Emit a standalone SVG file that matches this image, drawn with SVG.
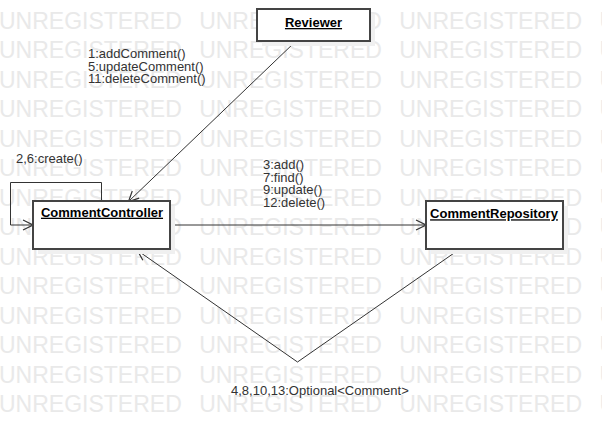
<svg xmlns="http://www.w3.org/2000/svg" width="602" height="442" viewBox="0 0 602 442">
<style>
.wm{font-family:"Liberation Sans",Arial,sans-serif;font-size:23px;fill:#e9e9e9;word-spacing:11px}
.box{fill:#fff;stroke:#444;stroke-width:2}
.shadow{fill:#f0f0f0}
.title{font-family:"Liberation Sans",Arial,sans-serif;font-size:13px;font-weight:bold;fill:#000;text-anchor:middle;text-decoration:underline}
.lbl{font-family:"Liberation Sans",Arial,sans-serif;font-size:13px;fill:#333}
.conn{fill:none;stroke:#333;stroke-width:1}
</style>
<defs>
<marker id="open" viewBox="0 0 12 12" refX="11" refY="6" markerWidth="12" markerHeight="12" markerUnits="userSpaceOnUse" orient="auto">
<path d="M1,1 L11,6 L1,11" fill="none" stroke="#333" stroke-width="1.2"/>
</marker>
</defs>
<rect width="602" height="442" fill="#fff"/>
<g id="watermark">
<text class="wm" x="-1" y="28.5">UNREGISTERED UNREGISTERED UNREGISTERED UNREGISTERED</text>
<text class="wm" x="-1" y="58">UNREGISTERED UNREGISTERED UNREGISTERED UNREGISTERED</text>
<text class="wm" x="-1" y="87.5">UNREGISTERED UNREGISTERED UNREGISTERED UNREGISTERED</text>
<text class="wm" x="-1" y="117">UNREGISTERED UNREGISTERED UNREGISTERED UNREGISTERED</text>
<text class="wm" x="-1" y="146.5">UNREGISTERED UNREGISTERED UNREGISTERED UNREGISTERED</text>
<text class="wm" x="-1" y="176">UNREGISTERED UNREGISTERED UNREGISTERED UNREGISTERED</text>
<text class="wm" x="-1" y="205.5">UNREGISTERED UNREGISTERED UNREGISTERED UNREGISTERED</text>
<text class="wm" x="-1" y="235">UNREGISTERED UNREGISTERED UNREGISTERED UNREGISTERED</text>
<text class="wm" x="-1" y="264.5">UNREGISTERED UNREGISTERED UNREGISTERED UNREGISTERED</text>
<text class="wm" x="-1" y="294">UNREGISTERED UNREGISTERED UNREGISTERED UNREGISTERED</text>
<text class="wm" x="-1" y="323.5">UNREGISTERED UNREGISTERED UNREGISTERED UNREGISTERED</text>
<text class="wm" x="-1" y="353">UNREGISTERED UNREGISTERED UNREGISTERED UNREGISTERED</text>
<text class="wm" x="-1" y="382.5">UNREGISTERED UNREGISTERED UNREGISTERED UNREGISTERED</text>
<text class="wm" x="-1" y="412">UNREGISTERED UNREGISTERED UNREGISTERED UNREGISTERED</text>
</g>
<g id="connectors">
<path class="conn" d="M295,42 L128.5,201.5" marker-end="url(#open)"/>
<path class="conn" d="M101.5,201 V182.5 H10.5 V225 H33" marker-end="url(#open)"/>
<path class="conn" d="M171,225 H426" marker-end="url(#open)"/>
<path class="conn" d="M457,251 L297.5,362 L137.5,250.5" marker-end="url(#open)"/>
<text class="lbl" x="88" y="58">1:addComment()</text>
<text class="lbl" x="88" y="70.5">5:updateComment()</text>
<text class="lbl" x="88" y="83">11:deleteComment()</text>
<text class="lbl" x="16" y="162.5">2,6:create()</text>
<text class="lbl" x="263" y="169">3:add()</text>
<text class="lbl" x="263" y="181.7">7:find()</text>
<text class="lbl" x="263" y="194.4">9:update()</text>
<text class="lbl" x="263" y="207.1">12:delete()</text>
<text class="lbl" x="231" y="394.5">4,8,10,13:Optional&lt;Comment&gt;</text>
</g>
<g id="Reviewer">
<rect class="shadow" x="262" y="14" width="113" height="32"/>
<rect class="box" x="257" y="9" width="113" height="32"/>
<text class="title" x="313.5" y="27">Reviewer</text>
</g>
<g id="CommentController">
<rect class="shadow" x="38" y="206" width="137" height="48"/>
<rect class="box" x="33" y="201" width="137" height="48"/>
<text class="title" x="102" y="216.7">CommentController</text>
</g>
<g id="CommentRepository">
<rect class="shadow" x="431" y="206" width="137" height="48"/>
<rect class="box" x="426" y="201" width="137" height="48"/>
<text class="title" x="494" y="218.3">CommentRepository</text>
</g>
</svg>
